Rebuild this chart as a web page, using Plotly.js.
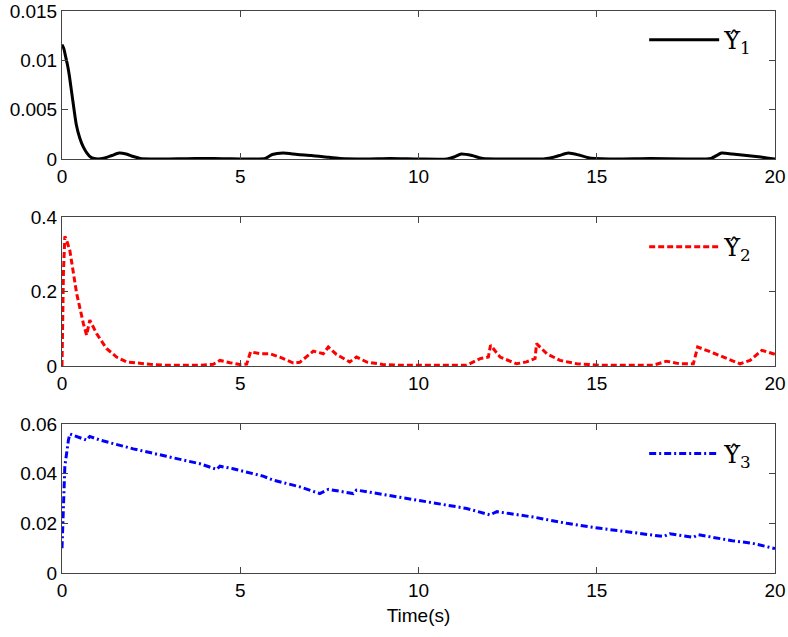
<!DOCTYPE html>
<html>
<head>
<meta charset="utf-8">
<script src="https://cdn.plot.ly/plotly-3.0.1.min.js"></script>
<style>html,body{margin:0;padding:0;background:#fff;}#chart{width:788px;height:637px;}</style>
</head>
<body>
<div id="chart"></div>
<script>
// Series 1 (black solid)
const t1 = [0,0.05,0.1,0.15,0.2,0.3,0.4,0.5,0.6,0.7,0.8,0.9,1.0,1.2,1.4,1.6,1.8,2.0,2.2,2.5,3.0,3.5,4.0,4.5,5.0,5.5,5.7,5.9,6.2,6.6,7.0,7.4,7.8,8.5,9.2,10,10.8,11.0,11.2,11.5,11.8,12.5,13.5,13.7,13.95,14.2,14.5,14.8,15.5,16.5,17.5,18.2,18.5,18.8,19.2,19.6,20];
const y1 = [0.0116,0.0112,0.0104,0.0096,0.0086,0.0060,0.0035,0.0021,0.0012,0.0006,0.0002,0.00005,0.0,0.0001,0.00035,0.0006,0.0005,0.00025,0.00005,0,0,0.00003,0.00005,0.00003,0,0,0.00005,0.00045,0.0006,0.00045,0.00035,0.0002,0.00005,0,0.00005,0,0,0.0002,0.0005,0.00035,0.00005,0,0,0.0001,0.00035,0.0006,0.0004,0.0001,0,0.00005,0,0.00005,0.0006,0.0005,0.00035,0.0002,0.0];

// Series 2 (red dashed)
const t2 = [0,0.04,0.08,0.12,0.22,0.41,0.6,0.69,0.78,0.97,1.25,1.53,1.81,2.47,2.93,3.87,4.24,4.43,4.71,4.99,5.18,5.29,5.55,5.83,6.11,6.49,6.67,7.05,7.33,7.47,7.7,8.07,8.26,8.54,9.0,9.48,11.35,11.73,11.96,12.02,12.29,12.75,13.03,13.27,13.31,13.6,13.97,14.44,15.09,16.58,16.96,17.33,17.71,17.83,18.27,18.64,19.02,19.3,19.63,19.95,20];
const y2 = [0,0.25,0.348,0.34,0.31,0.195,0.114,0.083,0.123,0.087,0.047,0.024,0.011,0.0045,0.002,0.002,0.0045,0.015,0.009,0.004,0.005,0.038,0.033,0.033,0.024,0.008,0.01,0.040,0.033,0.051,0.031,0.011,0.024,0.011,0.004,0.002,0.002,0.02,0.024,0.056,0.024,0.006,0.011,0.02,0.06,0.033,0.015,0.006,0.002,0.002,0.013,0.006,0.006,0.051,0.035,0.02,0.006,0.015,0.042,0.033,0.031];

// Series 3 (blue dash-dot)
const t3 = [0,0.04,0.08,0.18,0.22,0.69,0.78,1.07,2.0,2.93,3.87,4.34,4.43,4.8,5.64,5.93,6.67,7.23,7.47,8.17,8.26,9.48,11.35,12.0,12.2,13.23,14.16,15.09,16.03,16.87,17.05,17.71,17.85,18.8,19.36,19.95,20];
const y3 = [0.010,0.031,0.043,0.0535,0.056,0.0535,0.055,0.0535,0.050,0.047,0.044,0.0417,0.043,0.042,0.039,0.0374,0.0347,0.032,0.0337,0.032,0.0334,0.0305,0.026,0.0234,0.0247,0.0225,0.020,0.018,0.0163,0.0147,0.0158,0.0144,0.0154,0.013,0.012,0.010,0.0098];

const names = ['Υ̂<sub>1</sub>','Υ̂<sub>2</sub>','Υ̂<sub>3</sub>'];
const xTicks = [0,5,10,15,20];

const traces = [
  {x:t1, y:y1, type:'scatter', mode:'lines', name:names[0], xaxis:'x', yaxis:'y', legend:'legend',
   line:{color:'#000000', width:3, shape:'spline', smoothing:0.6}},
  {x:t2, y:y2, type:'scatter', mode:'lines', name:names[1], xaxis:'x2', yaxis:'y2', legend:'legend2',
   line:{color:'#ff0000', width:3, dash:'6px,3px'}},
  {x:t3, y:y3, type:'scatter', mode:'lines', name:names[2], xaxis:'x3', yaxis:'y3', legend:'legend3',
   line:{color:'#0000ff', width:3, dash:'7px,3px,2px,3px'}}
];

const tickFont = {family:'Liberation Sans, Arial, sans-serif', size:19, color:'#000'};
function xa(anchor){
  return {anchor:anchor, range:[0,20], tickvals:xTicks, ticktext:xTicks.map(String),
    ticks:'inside', ticklen:6, tickcolor:'#444', showline:true, linecolor:'#444', linewidth:1,
    mirror:'ticks', showgrid:false, zeroline:false, tickfont:tickFont};
}
function ya(anchor, domain, range, dtick){
  return {anchor:anchor, domain:domain, range:range, dtick:dtick, tick0:0,
    ticks:'inside', ticklen:6, tickcolor:'#444', showline:true, linecolor:'#444', linewidth:1,
    mirror:'ticks', showgrid:false, zeroline:false, tickfont:tickFont};
}
function lg(y){
  return {x:0.975, xanchor:'right', y:y, yanchor:'middle', bgcolor:'rgba(0,0,0,0)', borderwidth:0,
    font:{family:'DejaVu Serif, serif', size:24, color:'#000'}, itemwidth:70};
}

const x3 = xa('y3');
x3.title = {text:'Time(s)', font:{family:'Liberation Sans, Arial, sans-serif', size:19, color:'#000'}, standoff:8};

const layout = {
  width:788, height:637,
  margin:{l:62, r:13, t:11, b:64},
  paper_bgcolor:'#fff', plot_bgcolor:'#fff',
  showlegend:true,
  xaxis:xa('y'), xaxis2:xa('y2'), xaxis3:x3,
  yaxis:ya('x',[0.7367,1],[0,0.015],0.005),
  yaxis2:ya('x2',[0.3683,0.6335],[0,0.4],0.2),
  yaxis3:ya('x3',[0,0.2651],[0,0.06],0.02),
  legend:lg(0.948), legend2:lg(0.58), legend3:lg(0.2117)
};

Plotly.newPlot('chart', traces, layout, {displayModeBar:false, staticPlot:true});
</script>
</body>
</html>
